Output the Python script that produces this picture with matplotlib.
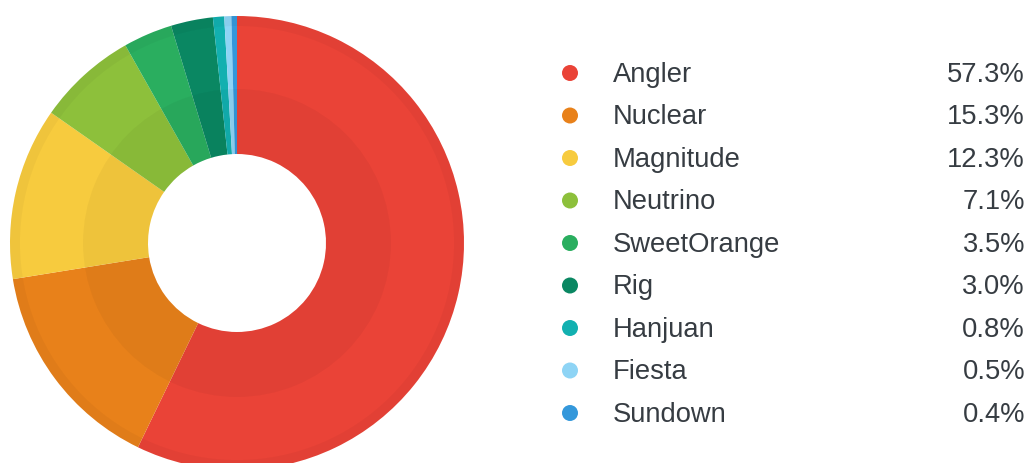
import matplotlib
matplotlib.use("Agg")
import matplotlib.pyplot as plt
from matplotlib.patches import Wedge, Circle

########################################################

names = ["Angler", "Nuclear", "Magnitude", "Neutrino", "SweetOrange",
         "Rig", "Hanjuan", "Fiesta", "Sundown"]
shares = [57.3, 15.3, 12.3, 7.1, 3.5, 3.0, 0.8, 0.5, 0.4]
colors = ["#EA4337", "#E8811A", "#F7CB3E", "#8DC03B", "#2AAE5F",
          "#0A8762", "#12B0B0", "#8ED4F5", "#3498DB"]

########################################################

W, H = 1029, 463
fig = plt.figure(figsize=(W / 100, H / 100), dpi=100)
ax = fig.add_axes([0, 0, 1, 1])

cx, cy = 237, H - 243
R_out, R_in = 227, 89

ax.pie(shares, colors=colors, center=(cx, cy), radius=R_out,
       startangle=90, counterclock=False,
       wedgeprops=dict(width=R_out - R_in, linewidth=0))

# subtle darker bands (inner shade + outer rim)
ax.add_patch(Wedge((cx, cy), 154, 0, 360, width=154 - R_in,
                   facecolor="black", alpha=0.035, linewidth=0))
ax.add_patch(Wedge((cx, cy), R_out, 0, 360, width=10,
                   facecolor="black", alpha=0.03, linewidth=0))

ax.set_xlim(0, W)
ax.set_ylim(0, H)
ax.set_aspect("auto")
ax.axis("off")

# legend
row0, step = 73, 42.5
txt_color = "#363c42"
for i, (name, val, col) in enumerate(zip(names, shares, colors)):
    y = H - (row0 + i * step)
    ax.add_patch(Circle((570, y), 8, facecolor=col, linewidth=0))
    ax.text(613, y - 8.7, name, fontsize=19.7, family="Liberation Sans",
            color=txt_color, va="baseline", ha="left")
    ax.text(1025, y - 8.7, f"{val:.1f}%", fontsize=19.7, family="Liberation Sans",
            color=txt_color, va="baseline", ha="right")

fig.savefig("out.png", dpi=100)
